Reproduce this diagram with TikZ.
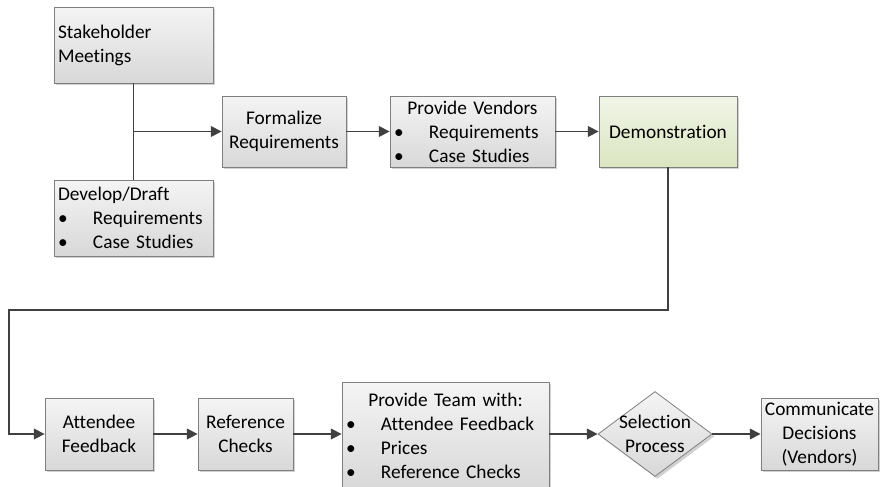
\documentclass[tikz,border=0pt]{standalone}
\usepackage{fontspec}
\setmainfont{Carlito}[Ligatures=NoCommon]
\usetikzlibrary{arrows.meta,shapes.geometric,shadows}

\definecolor{edge}{HTML}{7F7F7F}
\definecolor{wire}{HTML}{404040}
\definecolor{greytop}{HTML}{F4F4F4}
\definecolor{greybot}{HTML}{D8D8D8}
\definecolor{greentop}{HTML}{F1F5E7}
\definecolor{greenbot}{HTML}{DAE5C1}

% one bullet line: dot, then the item text at a fixed indent
\newcommand\bitem[1]{\makebox[26.25pt][l]{\textbullet}#1}
% a heading line centred across the full text width
\newcommand\chead[1]{\makebox[\hsize][c]{#1}}

\tikzset{
  txt/.style={font=\fontsize{14.5pt}{18pt}\selectfont, text=black},
  procbox/.style={txt, draw=edge, line width=0.6pt, rectangle,
    top color=greytop, bottom color=greybot,
    drop shadow={shadow xshift=1.8pt, shadow yshift=-1.8pt, opacity=0.18, fill=black},
    inner xsep=3pt, inner ysep=0pt, align=center},
  listbox/.style={procbox, align=left},
  greenbox/.style={procbox, top color=greentop, bottom color=greenbot},
  conn/.style={draw=wire, line width=1.1pt},
  flow/.style={conn, -{Triangle[length=8pt,width=8pt]}},
}

\begin{document}
\begin{tikzpicture}[x=0.75pt, y=-0.75pt]
\useasboundingbox (0,0) rectangle (881,486);

% upper row
\node[listbox, text width=113.25pt, minimum height=57pt] (stake) at (133.5,45)
  {Stakeholder\\Meetings};
\node[listbox, text width=113.25pt, minimum height=57pt] (draft) at (133.5,218)
  {Develop/Draft\\\bitem{Requirements}\\\bitem{Case Studies}};
\node[procbox, minimum width=93pt, minimum height=53.25pt] (formal) at (284,131.5)
  {Formalize\\Requirements};
\node[listbox, text width=117.75pt, minimum height=53.25pt] (vendors) at (472.5,131.5)
  {\chead{Provide Vendors}\\\bitem{Requirements}\\\bitem{Case Studies}};
\node[greenbox, minimum width=103.5pt, minimum height=53.25pt] (demo) at (668,131.5)
  {Demonstration};

% lower row
\node[procbox, minimum width=81pt, minimum height=54pt] (attendee) at (99,434)
  {Attendee\\Feedback};
\node[procbox, minimum width=71.25pt, minimum height=54pt] (refchk) at (245.5,434)
  {Reference\\Checks};
\node[listbox, text width=149.25pt, minimum height=81pt] (team) at (445.5,436)
  {\chead{Provide Team with:}\\\bitem{Attendee Feedback}\\\bitem{Prices}\\\bitem{Reference Checks}};
\node[diamond, draw=edge, line width=0.6pt, top color=greytop, bottom color=greybot,
  drop shadow={shadow xshift=1.8pt, shadow yshift=-1.8pt, opacity=0.18, fill=black},
  minimum width=85.5pt, minimum height=63.75pt, inner sep=0pt] (sel) at (655,434) {};
\node[txt, align=center, inner sep=0pt] (selT) at (sel.center) {Selection\\Process};
\node[procbox, minimum width=87.75pt, minimum height=54pt] (comm) at (819.5,434)
  {Communicate\\Decisions\\(Vendors)};

% connectors
\coordinate (join) at (stake.south |- formal.west);
\draw[conn] (stake.south) -- (draft.north);
\draw[flow] (join) -- (formal.west);
\draw[flow] (formal.east) -- (vendors.west);
\draw[flow] (vendors.east) -- (demo.west);
\coordinate (turnR) at (668,310);
\coordinate (turnL) at (9,310);
\draw[flow] (demo.south) -- (turnR) -- (turnL) -- (turnL |- attendee.west) -- (attendee.west);
\draw[flow] (attendee.east) -- (refchk.west);
\draw[flow] (refchk.east) -- (refchk.east -| team.west);
\draw[flow] (sel.west -| team.east) -- (sel.west);
\draw[flow] (sel.east) -- (comm.west);
\end{tikzpicture}
\end{document}
